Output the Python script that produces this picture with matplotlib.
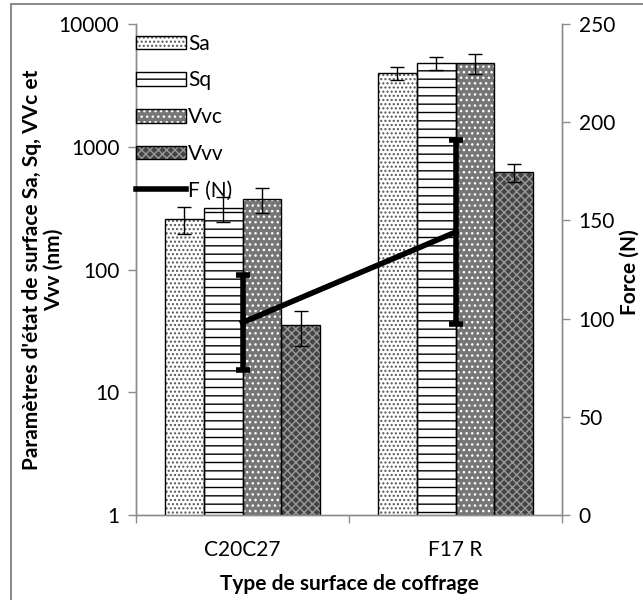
import matplotlib
matplotlib.use("Agg")
import matplotlib.pyplot as plt
import numpy as np
from matplotlib.patches import Rectangle, Patch
from matplotlib.lines import Line2D
from matplotlib.legend_handler import HandlerTuple
from matplotlib.ticker import FixedLocator, FixedFormatter, NullLocator

plt.rcParams['font.family'] = ['Lato', 'DejaVu Sans']
plt.rcParams['hatch.linewidth'] = 1.0

categories = ['C20C27', 'F17 R']
series = ['Sa', 'Sq', 'Vvc', 'Vvv']
sa = [258, 3990]
sa_err = [62, 470]
sq = [317, 4800]
sq_err = [72, 580]
vvc = [375, 4800]
vvc_err = [88, 850]
vvv = [35, 623]
vvv_err = [11, 105]
force = [98, 144]
force_err = [24, 47]

grey = '#8c8c8c'
fs = 15
fig = plt.figure(figsize=(6.43, 6.0), dpi=100)
ax = fig.add_axes([136 / 643, 1 - 515 / 600, 426 / 643, 491 / 600])
ax2 = ax.twinx()

x = np.arange(len(categories))
w = 0.182
offs = [-1.5 * w, -0.5 * w, 0.5 * w, 1.5 * w]
vals = [sa, sq, vvc, vvv]
errs = [sa_err, sq_err, vvc_err, vvv_err]
# (face, hatch, hatch colour)
styles = [('white', '....', '#555555'),
          ('white', '--', 'black'),
          ('#767676', '...', 'white'),
          ('#444444', 'xxxx', '#9a9a9a')]

handles = []
for v, e, o, (fc, h, hc) in zip(vals, errs, offs, styles):
    ax.bar(x + o, v, w, color=fc, edgecolor=hc, hatch=h, linewidth=0, zorder=2)
    ax.bar(x + o, v, w, fill=False, edgecolor='black', linewidth=1.0, zorder=3)
    ax.errorbar(x + o, v, yerr=e, fmt='none', ecolor='black', elinewidth=1,
                capsize=5, capthick=1, zorder=4)
    handles.append((Patch(facecolor=fc, edgecolor=hc, hatch=h, linewidth=0),
                    Patch(fill=False, edgecolor='black', linewidth=1.0)))

ax.set_yscale('log')
ax.set_ylim(1, 10000)
ax.set_xlim(-0.5, 1.5)
ax.yaxis.set_major_locator(FixedLocator([1, 10, 100, 1000, 10000]))
ax.yaxis.set_major_formatter(FixedFormatter(['1', '10', '100', '1000', '10000']))
ax.yaxis.set_minor_locator(NullLocator())
ax.set_xticks(x)
ax.set_xticklabels(categories)
ax.set_xticks([-0.5, 0.5, 1.5], minor=True)
ax.tick_params(axis='x', which='major', length=0, pad=18, labelsize=fs)
ax.tick_params(axis='x', which='minor', length=6, color=grey, width=1)
ax.tick_params(axis='y', length=6, color=grey, width=1, labelsize=fs, pad=6)

ax2.errorbar(x, force, yerr=force_err, color='black', linewidth=4,
             elinewidth=4, capsize=5, capthick=4)
ax2.set_ylim(0, 250)
ax2.set_yticks(np.arange(0, 251, 50))
ax2.tick_params(axis='y', length=6, color=grey, width=1, labelsize=fs, pad=6)

for a in (ax, ax2):
    a.spines['top'].set_visible(False)
    for s in ('left', 'right', 'bottom'):
        a.spines[s].set_color(grey)
        a.spines[s].set_linewidth(1)

handles.append(Line2D([], [], color='black', linewidth=4))
ax2.legend(handles, series + ['F (N)'], loc='upper left',
           bbox_to_anchor=(0.0, 0.98), frameon=False, fontsize=fs,
           handlelength=2.4, handleheight=0.63, handletextpad=0.1,
           labelspacing=0.8, borderpad=0, borderaxespad=0,
           handler_map={tuple: HandlerTuple(ndivide=1, pad=0)})

ax.set_xlabel('Type de surface de coffrage', fontsize=fs, fontweight='bold',
              labelpad=10)
fig.text(43 / 643, 0.55, "Paramètres d'état de surface Sa, Sq, VVc et\nVvv (nm)",
         rotation=90, ha='center', va='center', multialignment='center',
         fontsize=fs, fontweight='bold', linespacing=1.15)
fig.text(630 / 643, 1 - 272 / 600, 'Force (N)', rotation=90, ha='center',
         va='center', fontsize=fs, fontweight='bold')

fig.patches.append(Rectangle((11 / 643, -0.1), 1.2, 1.1 - 4 / 600,
                             transform=fig.transFigure, fill=False,
                             edgecolor=grey, linewidth=1.5))

fig.savefig('out.png', dpi=100)
